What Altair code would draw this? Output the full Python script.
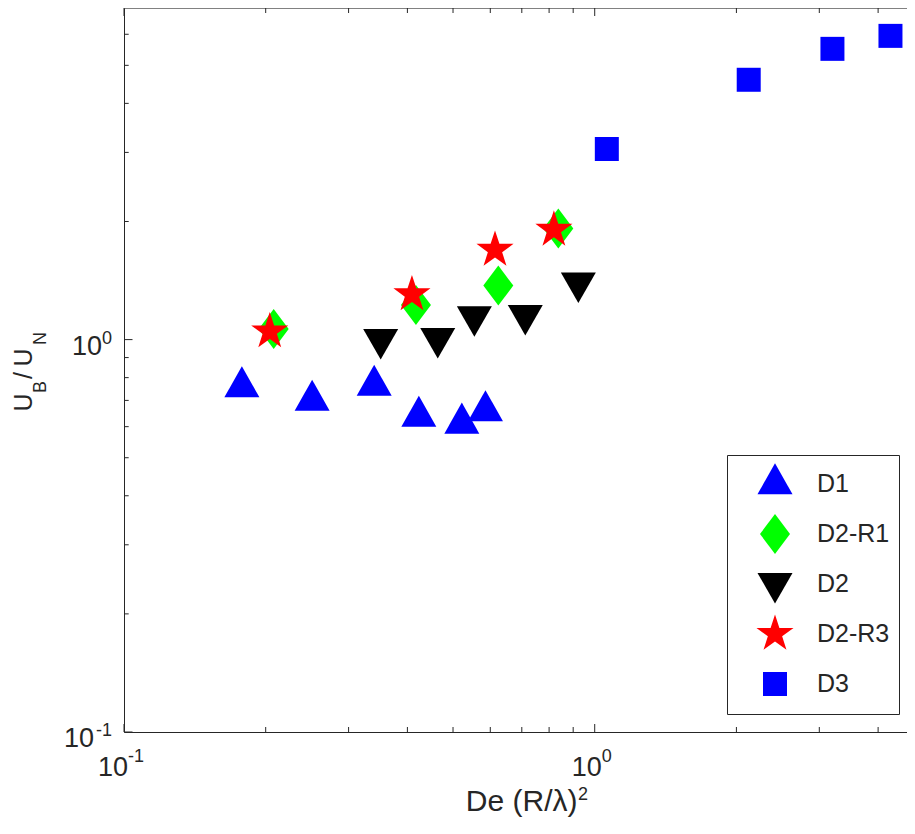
import math
import altair as alt
import pandas as pd

# ---------------- data ----------------
series_names = ["D1", "D2-R1", "D2", "D2-R3", "D3"]
series_colors = ["#0000FF", "#00FF00", "#000000", "#FF0000", "#0000FF"]

d1_x = [0.178, 0.251, 0.340, 0.423, 0.522, 0.586]
d1_y = [0.758, 0.700, 0.764, 0.637, 0.612, 0.658]
d2r1_x = [0.208, 0.417, 0.624, 0.837]
d2r1_y = [1.065, 1.226, 1.373, 1.920]
d2_x = [0.351, 0.464, 0.555, 0.712, 0.923]
d2_y = [0.998, 1.003, 1.140, 1.149, 1.389]
d2r3_x = [0.204, 0.409, 0.614, 0.819]
d2r3_y = [1.049, 1.304, 1.693, 1.904]
d3_x = [1.061, 2.124, 3.199, 4.249]
d3_y = [3.060, 4.594, 5.508, 5.944]

x_major = [0.1, 1.0]
x_minor = [0.2, 0.3, 0.4, 0.5, 0.6, 0.7, 0.8, 0.9, 2.0, 3.0, 4.0]
y_major = [0.1, 1.0]
y_minor = [0.2, 0.3, 0.4, 0.5, 0.6, 0.7, 0.8, 0.9, 2.0, 3.0, 4.0, 5.0, 6.0]
tick_exps = ["-1", "0"]

x_title = "De (R/\u03bb)"
x_title_exp = "2"

# ---------------- layout / style ----------------
W, H = 783, 724
INK = "#262626"
FONT = "Liberation Sans"
X_DOMAIN = [0.1, 4.607]
Y_DOMAIN = [0.1, 7.0]


def path(pts):
    # the two extra move-only points give every symbol the same bounds (legend rows)
    return ("M" + "L".join(f"{x:.3f},{y:.3f}" for x, y in pts) + "Z"
            + "M0,-1.05M0,1.05")


star_pts = []
for k in range(10):
    ang = math.radians(-90 + 36 * k)
    r = 0.975 if k % 2 == 0 else 0.375
    star_pts.append((r * math.cos(ang), r * math.sin(ang)))

shapes = [
    path([(0, -1.035), (0.875, 0.517), (-0.875, 0.517)]),
    path([(0, -1.0), (0.75, 0), (0, 1.0), (-0.75, 0)]),
    path([(-0.875, -0.55), (0.875, -0.55), (0, 0.975)]),
    path(star_pts),
    path([(-0.6, -0.6), (0.6, -0.6), (0.6, 0.6), (-0.6, 0.6)]),
]

rows = []
for name, xs_, ys_ in zip(series_names,
                          [d1_x, d2r1_x, d2_x, d2r3_x, d3_x],
                          [d1_y, d2r1_y, d2_y, d2r3_y, d3_y]):
    for a, b in zip(xs_, ys_):
        rows.append({"series": name, "x": a, "y": b})
df = pd.DataFrame(rows)

xs = alt.Scale(type="log", domain=X_DOMAIN, nice=False)
ys = alt.Scale(type="log", domain=Y_DOMAIN, nice=False)

TITLE_RIGHT = 453  # right end of "De (R/λ)" in plot pixels

points = alt.Chart(df).mark_point(filled=True, opacity=1, size=1600, strokeWidth=0).encode(
    x=alt.X("x:Q", scale=xs,
            axis=alt.Axis(labels=False, ticks=False, grid=False, domain=True,
                          domainColor=INK, domainWidth=1, title=x_title,
                          titleFontSize=30, titleFont=FONT, titleColor=INK,
                          titleFontWeight="normal", titleX=TITLE_RIGHT, titleY=78,
                          titleAlign="right", titleBaseline="alphabetic")),
    y=alt.Y("y:Q", scale=ys,
            axis=alt.Axis(labels=False, ticks=False, grid=False, domain=True,
                          domainColor=INK, domainWidth=1, title=None)),
    color=alt.Color("series:N", scale=alt.Scale(domain=series_names, range=series_colors),
                    legend=alt.Legend(title=None, orient="none", legendX=603, legendY=447,
                                      padding=9, strokeColor=INK, fillColor="white",
                                      symbolSize=1600, symbolStrokeWidth=0,
                                      symbolOffset=19, labelOffset=22, rowPadding=8,
                                      labelFontSize=25, labelFont=FONT, labelColor=INK,
                                      labelExpr="datum.label + '\u00a0\u00a0\u00a0\u00a0\u00a0\u00a0'")),
    shape=alt.Shape("series:N", scale=alt.Scale(domain=series_names, range=shapes)),
)

layers = [points]

# top border
layers.append(alt.Chart(pd.DataFrame({"a": [0]})).mark_rule(color=INK, strokeWidth=1).encode(
    x=alt.value(0), x2=alt.value(W), y=alt.value(0)))


# inward ticks
def xticks(vals, length):
    d = pd.DataFrame({"v": vals})
    bottom = alt.Chart(d).mark_rule(color=INK, strokeWidth=1).encode(
        x=alt.X("v:Q", scale=xs), y=alt.value(H), y2=alt.value(H - length))
    top = alt.Chart(d).mark_rule(color=INK, strokeWidth=1).encode(
        x=alt.X("v:Q", scale=xs), y=alt.value(0), y2=alt.value(length))
    return [bottom, top]


def yticks(vals, length):
    d = pd.DataFrame({"v": vals})
    return [alt.Chart(d).mark_rule(color=INK, strokeWidth=1).encode(
        y=alt.Y("v:Q", scale=ys), x=alt.value(0), x2=alt.value(length))]


layers += xticks(x_major, 8) + xticks(x_minor, 5) + yticks(y_major, 8.5) + yticks(y_minor, 4.7)

# tick labels 10^e
for v, e in zip(x_major, tick_exps):
    d = pd.DataFrame({"v": [v], "base": ["10"], "e": [e]})
    wexp = 16 if e == "-1" else 10
    j = (30 - wexp) / 2 - 3
    layers.append(alt.Chart(d).mark_text(align="right", baseline="alphabetic", fontSize=27,
                                         font=FONT, color=INK, dx=j).encode(
        x=alt.X("v:Q", scale=xs), y=alt.value(H + 44), text="base:N"))
    layers.append(alt.Chart(d).mark_text(align="left", baseline="alphabetic", fontSize=18,
                                         font=FONT, color=INK, dx=j).encode(
        x=alt.X("v:Q", scale=xs), y=alt.value(H + 30), text="e:N"))

for v, e in zip(y_major, tick_exps):
    d = pd.DataFrame({"v": [v], "base": ["10"], "e": [e]})
    wexp = 18 if e == "-1" else 10
    layers.append(alt.Chart(d).mark_text(align="right", baseline="alphabetic", fontSize=27,
                                         font=FONT, color=INK, dx=-12 - wexp, dy=15).encode(
        y=alt.Y("v:Q", scale=ys), x=alt.value(0), text="base:N"))
    layers.append(alt.Chart(d).mark_text(align="right", baseline="alphabetic", fontSize=18,
                                         font=FONT, color=INK, dx=-12, dy=4).encode(
        y=alt.Y("v:Q", scale=ys), x=alt.value(0), text="e:N"))

# superscript of the x title
layers.append(alt.Chart(pd.DataFrame({"t": [x_title_exp]})).mark_text(
    align="left", baseline="alphabetic", fontSize=18, font=FONT, color=INK).encode(
    x=alt.value(TITLE_RIGHT + 1), y=alt.value(H + 68), text="t:N"))

# y title  U_B / U_N  (rotated pieces)
ytitle = [("U", 25, -92, 403.5), ("B", 18, -78, 385), ("/", 25, -92, 371),
          ("U", 25, -92, 358.5), ("N", 18, -78, 337)]
for t, fs, px, py in ytitle:
    layers.append(alt.Chart(pd.DataFrame({"t": [t]})).mark_text(
        angle=270, align="left", baseline="alphabetic", fontSize=fs, font=FONT, color=INK).encode(
        x=alt.value(px), y=alt.value(py), text="t:N"))

chart = alt.layer(*layers).properties(
    width=W, height=H,
    padding={"left": 116, "top": 0, "right": 0, "bottom": 88},
    autosize=alt.AutoSizeParams(type="none"),
    background="white",
).configure_view(stroke=None).configure(font=FONT)

chart.save("out.html", embed_options={"renderer": "svg", "actions": False})
